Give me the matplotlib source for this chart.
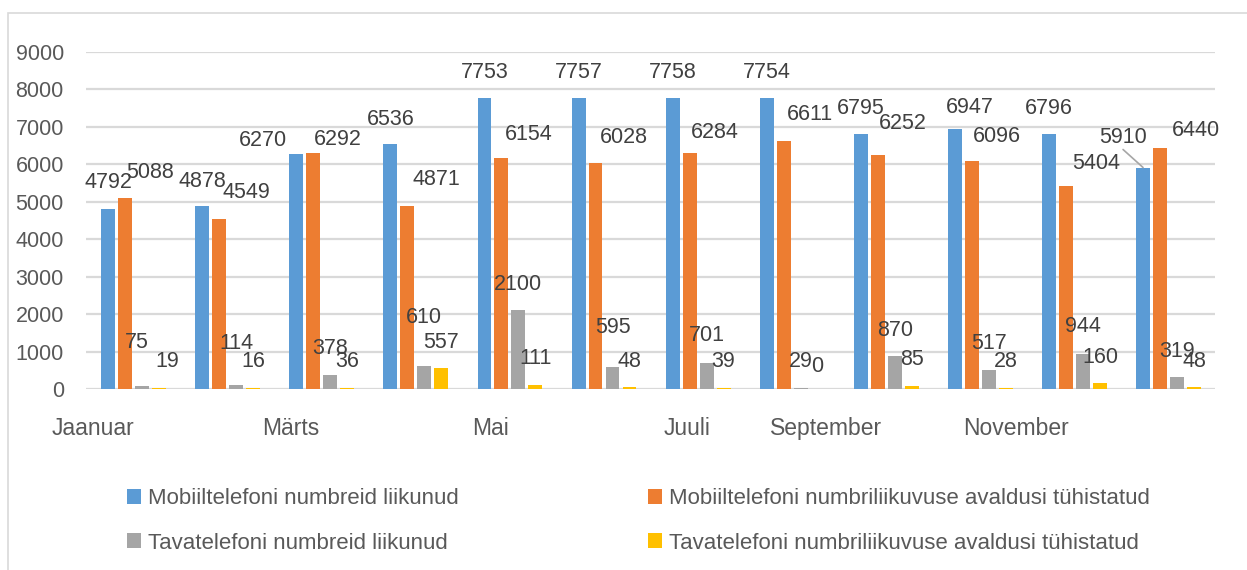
import matplotlib
matplotlib.use("Agg")
import matplotlib.pyplot as plt
from matplotlib.patches import Rectangle, Patch
import numpy as np

plt.rcParams['font.family'] = ['Liberation Sans', 'DejaVu Sans']

months = ["Jaanuar", "Veebruar", "Märts", "Aprill", "Mai", "Juuni",
          "Juuli", "August", "September", "Oktoober", "November", "Detsember"]
series_names = ["Mobiiltelefoni numbreid liikunud",
                "Mobiiltelefoni numbriliikuvuse avaldusi tühistatud",
                "Tavatelefoni numbreid liikunud",
                "Tavatelefoni numbriliikuvuse avaldusi tühistatud"]
mobile_moved = [4792, 4878, 6270, 6536, 7753, 7757, 7758, 7754, 6795, 6947, 6796, 5910]
mobile_cancelled = [5088, 4549, 6292, 4871, 6154, 6028, 6284, 6611, 6252, 6096, 5404, 6440]
landline_moved = [75, 114, 378, 610, 2100, 595, 701, 29, 870, 517, 944, 319]
landline_cancelled = [19, 16, 36, 557, 111, 48, 39, 0, 85, 28, 160, 48]
y_ticks = [0, 1000, 2000, 3000, 4000, 5000, 6000, 7000, 8000, 9000]

colors = ["#5B9BD5", "#ED7D31", "#A5A5A5", "#FFC000"]
text_color = "#595959"
label_color = "#404040"
grid_color = "#D9D9D9"

# label placement offsets (pixels) relative to the top-centre of each bar
label_dx = [
    [0, 0, -33, 0, 0, 0, 0, 0, 0, 15, 0, -20],
    [25, 27, 25, 29, 27, 28, 25, 26, 25, 25, 30, 36],
    [-5, 0, 0, 0, 0, 0, 0, 0, 0, 0, 0, 0],
    [8, 0, 0, 0, 0, 0, 0, 0, 0, 0, 0, 0],
]
label_dy = [
    [27, 25, 14, 25, 26, 26, 26, 26, 26, 21, 26, 30],
    [26, 26, 14, 27, 24, 26, 21, 27, 31, 24, 23, 17],
    [44, 41, 26, 49, 26, 39, 27, 26, 26, 26, 27, 26],
    [27, 27, 26, 26, 26, 26, 26, 22, 26, 26, 26, 26],
]
# x label shift (in category units), labels shown every second month
tick_shift = [-0.43, -0.32, -0.20, -0.11, -0.63, -0.61]

fig = plt.figure(figsize=(12.47, 5.70), dpi=100)
ax = fig.add_axes([86/1247, 1-389/570, (1215-86)/1247, (389-51.7)/570])

# chart border
fig.patches.append(Rectangle((8/1247, -0.05), 1.2, 1-13/570+0.05, transform=fig.transFigure,
                             fill=False, edgecolor=grid_color, linewidth=1.2))

x = np.arange(len(months))
all_series = [mobile_moved, mobile_cancelled, landline_moved, landline_cancelled]
bw = 0.148
stride = 0.1805
for k, vals in enumerate(all_series):
    xs = x + (k - 1.5) * stride + 0.006
    ax.bar(xs, vals, width=bw, color=colors[k], zorder=3, label=series_names[k])
    for i, v in enumerate(vals):
        ax.annotate(str(v), xy=(xs[i], v), xytext=(label_dx[k][i], label_dy[k][i]),
                    textcoords='offset pixels', ha='center', va='center',
                    fontsize=15.5, color=label_color, zorder=5)
        if k == 0 and i == 11:
            ax.annotate("", xy=(xs[i], v), xytext=(label_dx[k][i], label_dy[k][i] - 12),
                        textcoords='offset pixels',
                        arrowprops=dict(arrowstyle='-', color='#A6A6A6', lw=1.2,
                                        shrinkA=0, shrinkB=0), zorder=5)

ax.set_xlim(-0.5, len(months) - 0.5)
ax.set_ylim(0, 9000)
ax.set_yticks(y_ticks)
ax.set_yticklabels([str(t) for t in y_ticks], fontsize=15.5, color=text_color)
shown = months[::2]
ax.set_xticks([x[::2][j] + tick_shift[j] for j in range(len(shown))])
ax.set_xticklabels(shown, fontsize=16.5, color=text_color)
ax.tick_params(axis='both', length=0)
ax.tick_params(axis='y', pad=16)
ax.tick_params(axis='x', pad=20)
ax.yaxis.grid(True, color=grid_color, linewidth=1.6, zorder=0)
ax.set_axisbelow(True)
for s in ax.spines.values():
    s.set_visible(False)

handles = [Patch(facecolor=c) for c in colors]
order = [0, 2, 1, 3]
leg = fig.legend([handles[i] for i in order], [series_names[i] for i in order],
                 ncol=2, loc='center left', bbox_to_anchor=(107/1247, 1-521/570),
                 frameon=False, fontsize=16, handlelength=0.65, handleheight=0.65,
                 handletextpad=0.3, columnspacing=8.5, labelspacing=1.05,
                 labelcolor=text_color)

fig.savefig("out.png", dpi=100)
